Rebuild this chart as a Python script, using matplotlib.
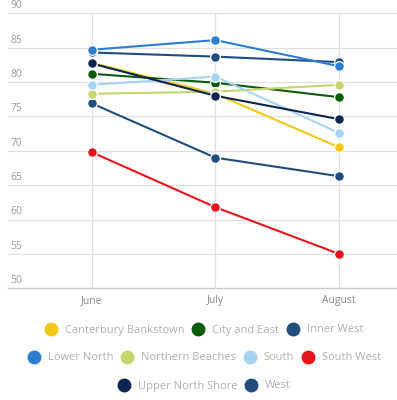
import matplotlib
matplotlib.use("Agg")
import matplotlib.pyplot as plt
from matplotlib.lines import Line2D

months = ["June", "July", "August"]
series_names = ["Canterbury Bankstown", "City and East", "Inner West",
                "Lower North", "Northern Beaches", "South", "South West",
                "Upper North Shore", "West"]
canterbury_bankstown = [82.8, 78.3, 70.5]
city_and_east = [81.2, 79.9, 77.8]
inner_west = [76.9, 69.0, 66.3]
lower_north = [84.7, 86.1, 82.3]
northern_beaches = [78.3, 78.6, 79.6]
south = [79.6, 80.8, 72.6]
south_west = [69.8, 61.8, 55.0]
upper_north_shore = [82.7, 78.0, 74.6]
west = [84.3, 83.7, 82.9]
y_ticks = [50, 55, 60, 65, 70, 75, 80, 85, 90]

values = [canterbury_bankstown, city_and_east, inner_west, lower_north,
          northern_beaches, south, south_west, upper_north_shore, west]
colors = ["#f2c811", "#0a5c0a", "#1f4e7e", "#2b7dd1", "#c6d56e",
          "#a6d4f2", "#e8141c", "#0b2550", "#1f4e7e"]
zorders = [3, 4, 5, 9, 6, 7, 5, 8, 2.5]

FONT = "Open Sans"
plt.rcParams["font.family"] = [FONT, "DejaVu Sans"]

fig = plt.figure(figsize=(3.97, 4.0), dpi=100)
W, H = 397, 400
ax_left, ax_right = 8, 397
ax_top, ax_bot = 13.3, 288.3
ax = fig.add_axes([ax_left / W, 1 - ax_bot / H, (ax_right - ax_left) / W, (ax_bot - ax_top) / H])

x = list(range(len(months)))
step = 123.7
xmin = -(91.7 - ax_left) / step
xmax = xmin + (ax_right - ax_left) / step
ax.set_xlim(xmin, xmax)
ax.set_ylim(50, 90)

for yv in y_ticks[1:]:
    ax.axhline(yv, color="#e0e0e0", lw=0.9, zorder=0)
for xi in x:
    ax.axvline(xi, color="#e0e0e0", lw=0.9, zorder=0)

for name, vals, c, z in zip(series_names, values, colors, zorders):
    ax.plot(x, vals, color=c, lw=1.5, marker="o", markersize=7,
            markeredgecolor="white", markeredgewidth=0.9, zorder=z,
            solid_capstyle="round")

for s in ["top", "right", "left"]:
    ax.spines[s].set_visible(False)
ax.spines["bottom"].set_color("#c8c8c8")
ax.spines["bottom"].set_linewidth(1.0)
ax.set_yticks([])
ax.set_xticks(x)
ax.set_xticklabels(months, color="#8a8a8a", fontsize=7.5)
ax.tick_params(axis="x", length=0, pad=5)

for yv in y_ticks:
    ax.annotate(str(yv), xy=(0, yv), xycoords=("axes fraction", "data"),
                xytext=(1.5, 1.5), textcoords="offset points",
                ha="left", va="bottom", fontsize=7.5, color="#9a9a9a")

# legend, three centered rows
rows = [[0, 1, 2], [3, 4, 5, 6], [7, 8]]
row_y = [330, 358, 386]
for r, yy in zip(rows, row_y):
    handles = [Line2D([], [], ls="none", marker="o", markersize=9,
                      markerfacecolor=colors[i], markeredgecolor=colors[i])
               for i in r]
    labels = [series_names[i] for i in r]
    leg = fig.legend(handles, labels, loc="center",
                     bbox_to_anchor=(204 / W, 1 - yy / H), ncol=len(r),
                     frameon=False, fontsize=8, handletextpad=0.65,
                     columnspacing=0.66, handlelength=1.2, borderpad=0,
                     borderaxespad=0)
    for t in leg.get_texts():
        t.set_color("#b0b0b0")

fig.savefig("out.png", dpi=100)
